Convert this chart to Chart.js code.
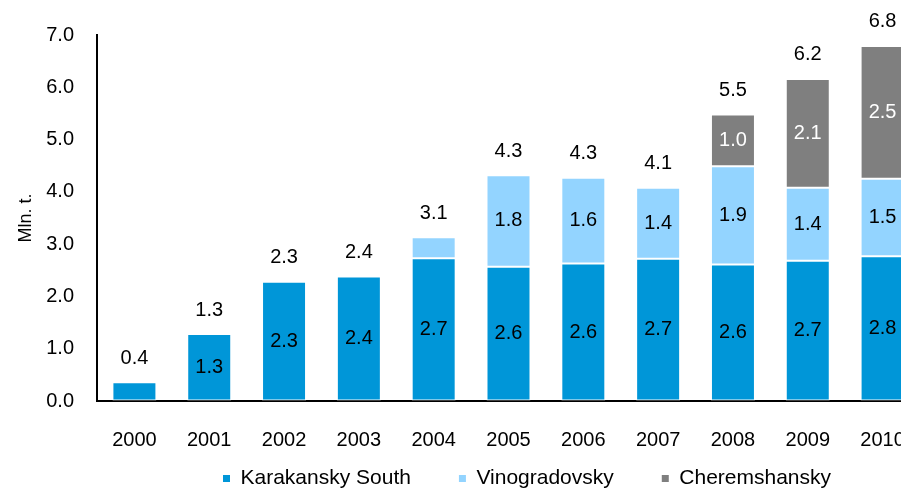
<!DOCTYPE html>
<html>
<head>
<meta charset="utf-8">
<script src="https://cdn.jsdelivr.net/npm/chart.js@4.4.1/dist/chart.umd.min.js"></script>
<style>
  html, body { margin: 0; padding: 0; background: #fff; overflow: hidden; }
  #wrap { width: 901px; height: 490px; overflow: hidden; }
  canvas { display: block; }
</style>
</head>
<body>
<div id="wrap"><canvas id="chart" width="1054" height="499"></canvas></div>
<script>
const years = ["2000", "2001", "2002", "2003", "2004", "2005", "2006", "2007", "2008", "2009", "2010"];
const karakansky = [0.36, 1.28, 2.28, 2.38, 2.73, 2.57, 2.63, 2.72, 2.61, 2.68, 2.77];
const vinogradovsky = [null, null, null, null, 0.40, 1.75, 1.64, 1.36, 1.88, 1.40, 1.48];
const cheremshansky = [null, null, null, null, null, null, null, null, 0.99, 2.08, 2.54];
const yTicks = [0, 1, 2, 3, 4, 5, 6, 7];

const FONT = '"Liberation Sans", Arial, sans-serif';
const colors = ["#0096d8", "#93d4ff", "#7f7f7f"];
const textColors = ["#000000", "#000000", "#ffffff"];

// segment values inside the bars, totals above them
const valueLabels = {
  id: "valueLabels",
  afterDatasetsDraw(chart) {
    const ctx = chart.ctx;
    ctx.save();
    ctx.font = `20px ${FONT}`;
    ctx.textAlign = "center";
    ctx.textBaseline = "middle";
    chart.data.datasets.forEach((ds, i) => {
      const meta = chart.getDatasetMeta(i);
      meta.data.forEach((bar, j) => {
        const v = ds.data[j];
        if (v == null || v < 0.5) return;
        ctx.fillStyle = textColors[i];
        ctx.fillText(v.toFixed(1), bar.x, (bar.y + bar.base) / 2);
      });
    });
    ctx.fillStyle = "#000";
    years.forEach((yr, j) => {
      const total = [karakansky, vinogradovsky, cheremshansky].reduce((s, arr) => s + (arr[j] || 0), 0);
      const px = chart.scales.x.getPixelForValue(j);
      const py = chart.scales.y.getPixelForValue(total);
      ctx.fillText(total.toFixed(1), px, py - 24);
    });
    ctx.restore();
  }
};

const barStyle = { borderColor: "#ffffff", borderWidth: 1, borderSkipped: false, barPercentage: 0.588, categoryPercentage: 1 };

new Chart(document.getElementById("chart"), {
  type: "bar",
  data: {
    labels: years,
    datasets: [
      { label: "Karakansky South", data: karakansky, backgroundColor: colors[0], ...barStyle },
      { label: "Vinogradovsky", data: vinogradovsky, backgroundColor: colors[1], ...barStyle },
      { label: "Cheremshansky", data: cheremshansky, backgroundColor: colors[2], ...barStyle }
    ]
  },
  options: {
    responsive: false,
    animation: false,
    devicePixelRatio: 1,
    layout: { padding: { top: 34, left: 0, right: 0, bottom: 0 } },
    scales: {
      x: {
        stacked: true,
        grid: { drawOnChartArea: false, drawTicks: false },
        border: { color: "#000", width: 2 },
        // mirror + negative padding keeps the labels below the axis without clipping
        ticks: { color: "#000", font: { size: 20, family: FONT }, mirror: true, padding: -51, maxRotation: 0, autoSkip: false },
        afterFit: (s) => { s.height = 19; }
      },
      y: {
        stacked: true,
        min: 0,
        max: 7,
        afterBuildTicks: (s) => { s.ticks = yTicks.map((v) => ({ value: v })); },
        grid: { drawOnChartArea: false, drawTicks: false },
        border: { color: "#000", width: 2 },
        ticks: { color: "#000", font: { size: 20, family: FONT }, padding: 23, callback: (v) => Number(v).toFixed(1) },
        title: { display: true, text: "Mln. t.", color: "#000", font: { size: 18, family: FONT }, padding: { top: 15, bottom: 0 } },
        afterFit: (s) => { s.width = 97; }
      },
      y2: {
        position: "right",
        display: true,
        grid: { display: false },
        border: { display: false },
        ticks: { display: false },
        afterFit: (s) => { s.width = 134; }
      }
    },
    plugins: {
      tooltip: { enabled: false },
      legend: {
        position: "bottom",
        labels: {
          color: "#000",
          boxWidth: 7,
          boxHeight: 7,
          padding: 48,
          font: { size: 21, family: FONT },
          generateLabels: (chart) => Chart.defaults.plugins.legend.labels.generateLabels(chart)
            .map((l) => ({ ...l, lineWidth: 0, strokeStyle: l.fillStyle }))
        }
      }
    }
  },
  plugins: [valueLabels]
});
</script>
</body>
</html>
